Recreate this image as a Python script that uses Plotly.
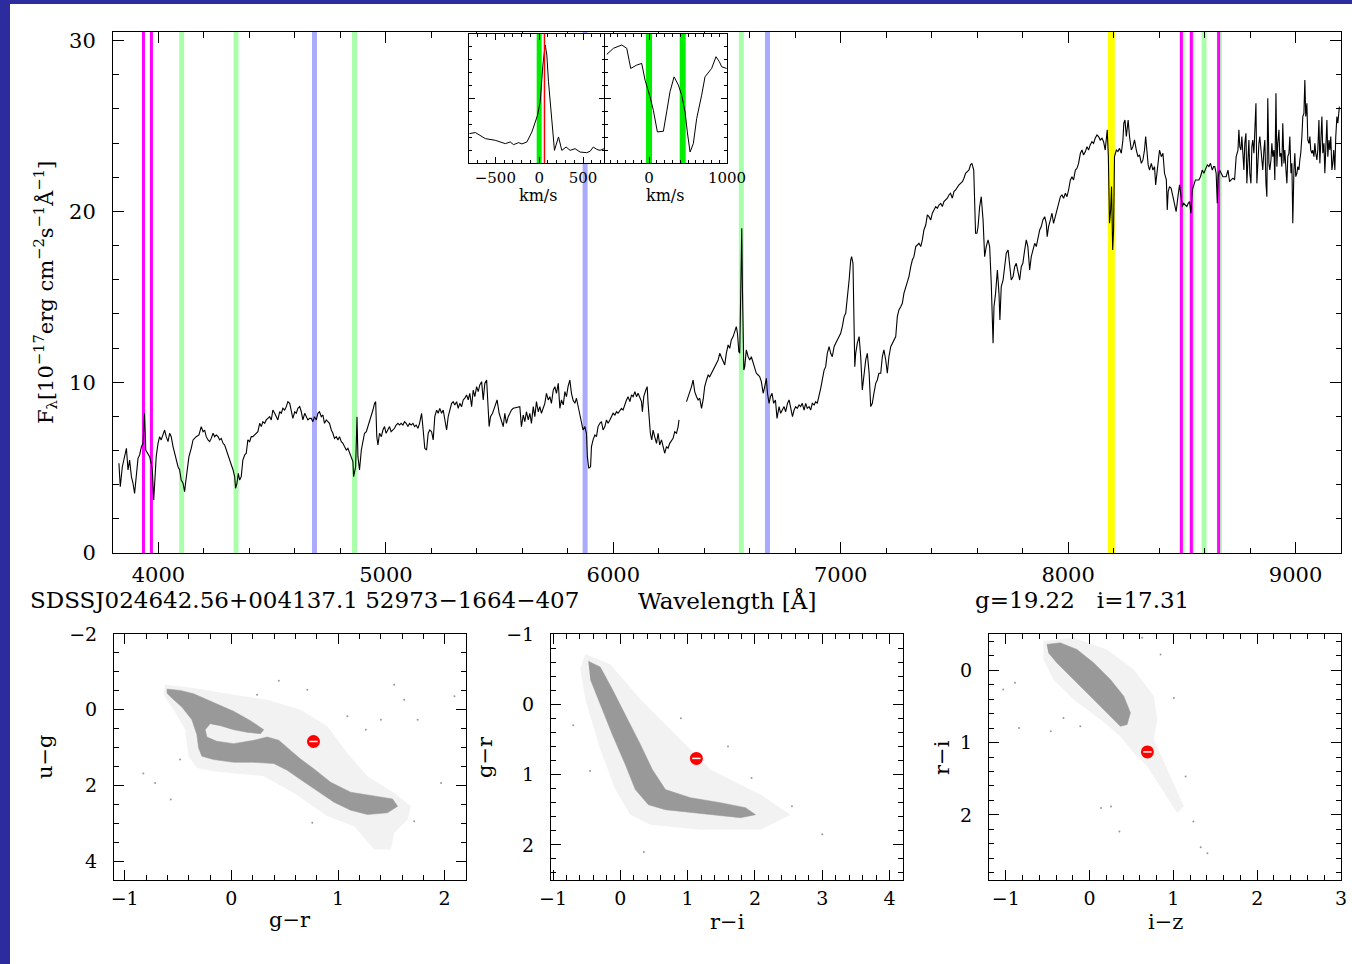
import plotly.graph_objects as go

W, H = 1352, 964
FONT = "DejaVu Serif"

# ---------------- spectrum: (wavelength [A], flux [1e-17 erg/cm2/s/A]) ----------------
spec_blue = [
    (3826, 5.25), (3832, 3.88), (3841, 5.05), (3851, 5.64), (3859, 6.13), (3866, 4.86), (3873, 5.44),
    (3881, 4.47), (3888, 4.08), (3895, 3.49), (3903, 4.86), (3910, 5.54), (3917, 5.74), (3925, 6.23),
    (3932, 6.42), (3939, 8.18), (3944, 6.03), (3954, 5.84), (3961, 5.64), (3968, 5.25), (3973, 4.86),
    (3979, 3.10), (3985, 4.86), (3990, 5.64), (3998, 6.42), (4005, 6.81), (4012, 6.62), (4020, 7.01),
    (4027, 7.20), (4034, 6.81), (4042, 6.52), (4049, 7.01), (4056, 6.81), (4064, 6.23), (4071, 5.84),
    (4078, 5.44), (4086, 5.05), (4093, 4.86), (4100, 4.27), (4108, 4.08), (4115, 3.59), (4119, 4.08),
    (4125, 4.86), (4134, 5.64), (4144, 6.13), (4152, 6.62), (4166, 6.81), (4178, 6.91), (4188, 7.40),
    (4196, 7.10), (4203, 7.20), (4210, 6.81), (4218, 6.62), (4225, 6.52), (4232, 6.71), (4240, 7.01),
    (4247, 6.81), (4254, 6.91), (4262, 6.81), (4269, 6.62), (4276, 6.71), (4284, 6.42), (4291, 6.32),
    (4298, 6.03), (4306, 5.74), (4313, 5.54), (4320, 5.25), (4328, 4.86), (4335, 4.47), (4339, 3.79),
    (4345, 4.08), (4351, 4.66), (4357, 4.27), (4364, 4.47), (4371, 5.44), (4379, 5.74), (4386, 5.84),
    (4393, 6.62), (4401, 6.52), (4408, 6.81), (4415, 6.81), (4423, 6.91), (4430, 7.01), (4437, 7.10),
    (4445, 7.59), (4452, 7.40), (4459, 7.69), (4467, 7.59), (4474, 7.79), (4481, 7.88), (4489, 7.98),
    (4496, 7.79), (4503, 8.37), (4511, 8.18), (4518, 7.98), (4525, 7.79), (4533, 8.27), (4540, 8.18),
    (4547, 8.47), (4555, 8.37), (4562, 8.57), (4569, 8.86), (4577, 8.76), (4584, 8.37), (4591, 7.88),
    (4599, 8.27), (4606, 8.18), (4613, 8.47), (4621, 8.57), (4628, 8.27), (4635, 7.79), (4643, 8.18),
    (4650, 7.98), (4657, 7.79), (4665, 7.88), (4672, 7.88), (4679, 7.69), (4686, 7.98), (4694, 7.79),
    (4701, 8.18), (4708, 8.27), (4716, 7.98), (4723, 8.08), (4730, 7.59), (4738, 7.79), (4745, 7.69),
    (4752, 7.59), (4760, 7.20), (4767, 7.01), (4774, 6.71), (4782, 6.81), (4789, 6.62), (4796, 6.81),
    (4804, 6.52), (4811, 6.42), (4818, 6.23), (4826, 6.03), (4833, 6.13), (4840, 5.84), (4848, 5.64),
    (4855, 5.35), (4858, 4.47), (4867, 5.05), (4873, 7.98), (4877, 5.64), (4884, 4.86), (4892, 6.03),
    (4899, 6.52), (4906, 7.01), (4914, 7.10), (4921, 7.40), (4928, 7.59), (4936, 7.98), (4943, 8.37),
    (4950, 8.76), (4955, 8.86), (4960, 6.81), (4965, 6.32), (4972, 7.01), (4980, 6.81), (4987, 7.20),
    (4994, 7.40), (5001, 7.01), (5009, 7.20), (5016, 7.40), (5023, 7.10), (5031, 7.20), (5038, 7.30),
    (5045, 7.49), (5053, 7.59), (5060, 7.49), (5067, 7.59), (5075, 7.49), (5082, 7.69), (5089, 7.59),
    (5097, 7.40), (5104, 7.59), (5111, 7.49), (5119, 7.59), (5126, 7.40), (5133, 7.49), (5141, 7.30),
    (5148, 7.59),
]
spec_green = [
    (5157, 8.18), (5164, 7.20), (5171, 6.13), (5179, 6.03), (5186, 7.01), (5193, 7.20), (5201, 7.10),
    (5208, 6.62), (5215, 7.98), (5223, 8.37), (5230, 8.18), (5237, 8.47), (5245, 8.18), (5252, 8.37),
    (5259, 7.79), (5267, 7.20), (5274, 7.98), (5281, 8.37), (5289, 8.76), (5296, 8.86), (5303, 8.67),
    (5311, 8.86), (5318, 8.47), (5325, 8.76), (5333, 8.57), (5340, 8.96), (5347, 9.06), (5355, 9.25),
    (5362, 8.96), (5369, 9.35), (5377, 8.57), (5384, 9.54), (5391, 9.15), (5399, 9.74), (5406, 9.45),
    (5413, 9.84), (5421, 10.03), (5428, 8.96), (5435, 9.93), (5443, 10.13), (5450, 8.57), (5454, 7.40),
    (5460, 7.98), (5469, 8.18), (5479, 8.57), (5489, 8.96), (5498, 8.18), (5508, 7.79), (5516, 7.40),
    (5523, 8.18), (5530, 7.59), (5538, 7.98), (5545, 8.18), (5552, 8.37), (5560, 8.47), (5589, 8.57),
    (5596, 7.40), (5604, 8.08), (5611, 7.69), (5618, 8.27), (5626, 7.79), (5633, 8.18), (5640, 7.59),
    (5648, 8.57), (5655, 7.98), (5662, 8.86), (5670, 8.27), (5677, 8.57), (5684, 8.18), (5692, 8.47),
    (5699, 8.76), (5706, 9.35), (5714, 8.96), (5721, 9.15), (5728, 8.76), (5736, 9.54), (5743, 9.74),
    (5750, 9.35), (5758, 9.93), (5765, 8.47), (5772, 8.96), (5780, 8.67), (5787, 9.45), (5794, 9.15),
    (5801, 9.74), (5809, 10.13), (5816, 9.35), (5823, 8.96), (5831, 8.76), (5838, 9.06), (5845, 8.57),
    (5853, 7.98), (5860, 7.59), (5867, 7.20), (5875, 7.40), (5882, 7.01), (5886, 5.64), (5892, 4.96),
    (5900, 5.05), (5904, 6.23), (5911, 6.62), (5919, 6.91), (5926, 6.81), (5933, 7.40), (5941, 7.59),
    (5948, 7.69), (5955, 7.20), (5963, 7.40), (5970, 7.79), (5977, 7.59), (5985, 7.79), (5992, 7.98),
    (5999, 8.18), (6007, 8.08), (6014, 8.27), (6021, 8.18), (6029, 8.37), (6036, 8.47), (6043, 8.37),
    (6051, 8.76), (6058, 8.96), (6065, 9.15), (6073, 8.86), (6080, 9.25), (6087, 9.15), (6095, 9.45),
    (6102, 9.15), (6109, 9.35), (6117, 9.06), (6124, 8.86), (6128, 8.27), (6134, 9.15), (6143, 9.54),
    (6149, 9.74), (6153, 8.76), (6158, 7.79), (6163, 7.01), (6169, 6.62), (6175, 7.20), (6182, 6.81),
    (6190, 6.42), (6197, 7.01), (6204, 6.32), (6212, 6.62), (6219, 6.13), (6226, 5.84), (6234, 6.23),
    (6241, 6.13), (6248, 6.42), (6256, 6.62), (6263, 6.71), (6270, 7.10), (6278, 7.01), (6285, 7.40),
    (6289, 7.79),
]
spec_red = [
    (6322, 8.86), (6329, 9.15), (6336, 9.35), (6344, 9.74), (6351, 10.13), (6358, 9.45), (6366, 9.15),
    (6373, 8.96), (6380, 9.06), (6388, 8.47), (6395, 8.96), (6402, 9.74), (6410, 10.13), (6417, 10.42),
    (6424, 10.32), (6432, 10.52), (6439, 10.71), (6446, 10.91), (6454, 11.10), (6461, 11.30),
    (6468, 11.69), (6475, 11.49), (6483, 11.20), (6490, 11.01), (6497, 11.69), (6505, 12.18),
    (6512, 11.98), (6519, 12.47), (6527, 12.67), (6534, 12.96), (6541, 13.25), (6546, 12.86),
    (6552, 11.79), (6556, 11.69), (6560, 16.37), (6565, 19.01), (6568, 15.40), (6571, 11.69),
    (6574, 10.71), (6578, 10.91), (6585, 11.89), (6593, 11.49), (6600, 11.30), (6607, 11.49),
    (6615, 11.10), (6622, 10.71), (6629, 10.52), (6637, 10.42), (6644, 10.32), (6651, 10.03),
    (6659, 9.35), (6666, 9.74), (6673, 10.23), (6678, 9.35), (6685, 8.76), (6691, 9.15), (6698, 9.35),
    (6705, 8.76), (6713, 8.96), (6720, 7.88), (6729, 8.57), (6736, 8.18), (6744, 8.37), (6751, 8.57),
    (6758, 8.27), (6766, 8.76), (6773, 8.96), (6780, 8.57), (6788, 7.98), (6795, 8.37), (6802, 8.57),
    (6809, 8.47), (6817, 8.67), (6824, 8.57), (6831, 8.76), (6839, 8.37), (6846, 8.76), (6853, 8.47),
    (6861, 8.57), (6868, 8.37), (6875, 8.76), (6883, 8.67), (6890, 8.86), (6897, 8.76), (6905, 9.15),
    (6912, 9.64), (6919, 10.13), (6927, 10.71), (6934, 10.91), (6941, 11.69), (6949, 12.08),
    (6956, 11.69), (6963, 11.49), (6971, 12.08), (6978, 12.28), (6985, 12.47), (6993, 12.67),
    (7000, 12.86), (7007, 13.25), (7015, 13.84), (7022, 14.03), (7029, 14.81), (7037, 15.98),
    (7044, 17.15), (7048, 17.35), (7054, 16.96), (7059, 13.25), (7062, 10.91), (7066, 11.69),
    (7073, 12.28), (7081, 12.67), (7088, 11.49), (7095, 9.54), (7103, 10.52), (7110, 11.30),
    (7117, 11.69), (7125, 10.52), (7132, 8.57), (7139, 8.76), (7146, 9.35), (7154, 9.93), (7161, 10.13),
    (7168, 10.52), (7176, 10.52), (7183, 11.49), (7190, 11.89), (7198, 11.30), (7205, 10.52),
    (7212, 11.49), (7220, 12.08), (7227, 12.28), (7234, 12.47), (7242, 12.67), (7249, 13.84),
    (7256, 14.23), (7264, 14.42), (7271, 14.62), (7278, 15.20), (7286, 15.59), (7293, 15.98),
    (7300, 16.18), (7308, 16.76), (7315, 17.15), (7322, 17.35), (7330, 17.94), (7337, 18.03),
    (7344, 18.13), (7352, 17.94), (7359, 18.33), (7366, 18.91), (7374, 19.20), (7381, 19.79),
    (7388, 19.69), (7396, 19.50), (7403, 19.89), (7410, 20.08), (7418, 20.28), (7425, 20.18),
    (7432, 20.37), (7440, 20.47), (7447, 20.28), (7454, 20.57), (7461, 20.67), (7469, 20.77),
    (7476, 20.96), (7483, 21.06), (7491, 20.77), (7498, 21.16), (7505, 21.25), (7513, 21.45),
    (7520, 21.55), (7527, 21.64), (7535, 21.74), (7542, 21.94), (7549, 22.23), (7557, 22.33),
    (7564, 22.42), (7571, 22.72), (7577, 22.81), (7585, 22.42), (7589, 20.28), (7593, 18.72),
    (7599, 18.72), (7604, 19.11), (7611, 20.28), (7618, 20.86), (7626, 19.50), (7633, 17.35),
    (7640, 17.94), (7648, 18.33), (7655, 17.94), (7662, 15.79), (7670, 12.28), (7674, 14.42),
    (7681, 15.20), (7689, 16.57), (7696, 15.20), (7700, 13.64), (7706, 15.59), (7714, 15.98),
    (7721, 16.76), (7728, 17.55), (7736, 17.74), (7743, 16.76), (7750, 15.98), (7758, 16.18),
    (7765, 16.76), (7772, 16.96), (7780, 16.37), (7787, 15.98), (7794, 16.76), (7801, 16.96),
    (7809, 17.74), (7816, 18.33), (7823, 17.94), (7831, 16.57),
]
spec_ir = [
    (7838, 17.35), (7845, 17.74), (7853, 18.13), (7860, 17.94), (7867, 18.52), (7875, 18.91),
    (7882, 19.11), (7889, 19.50), (7897, 19.69), (7904, 19.30), (7908, 18.52), (7914, 19.11),
    (7922, 19.50), (7929, 19.89), (7936, 19.30), (7944, 19.69), (7951, 20.08), (7958, 20.47),
    (7966, 20.86), (7973, 20.96), (7980, 20.77), (7988, 21.06), (7995, 20.86), (8002, 21.25),
    (8010, 21.84), (8017, 22.03), (8024, 21.84), (8032, 22.42), (8039, 22.52), (8046, 22.81),
    (8054, 23.40), (8061, 23.59), (8068, 23.30), (8076, 23.50), (8083, 23.79), (8090, 23.59),
    (8097, 23.89), (8105, 24.08), (8112, 23.98), (8119, 24.28), (8127, 24.47), (8134, 24.38),
    (8141, 24.18), (8149, 24.28), (8156, 24.08), (8163, 23.59), (8168, 24.38), (8172, 24.77),
    (8177, 23.20), (8180, 21.45), (8182, 19.30), (8187, 20.08), (8191, 21.45), (8196, 17.74),
    (8200, 18.91), (8204, 23.20), (8212, 23.59), (8219, 23.50), (8226, 23.69), (8234, 23.40),
    (8241, 24.18), (8245, 25.16), (8250, 25.35), (8256, 24.38), (8260, 24.96), (8264, 25.35),
    (8270, 24.38), (8278, 23.59), (8285, 23.79), (8292, 24.18), (8300, 23.59), (8307, 23.20),
    (8314, 23.30), (8322, 22.81), (8329, 23.01), (8336, 23.59), (8341, 24.38), (8347, 23.40),
    (8352, 22.72), (8358, 22.42), (8366, 22.81), (8373, 22.42), (8380, 22.62), (8385, 21.55),
    (8391, 22.42), (8396, 23.01), (8402, 23.59), (8410, 23.20), (8417, 23.40), (8424, 22.23),
    (8432, 21.84), (8436, 20.08), (8440, 21.16), (8446, 21.45), (8453, 21.35), (8461, 20.86),
    (8468, 20.47), (8475, 19.98), (8483, 20.86), (8490, 21.55), (8497, 20.86), (8502, 20.28),
    (8508, 20.47), (8515, 20.37), (8522, 20.28), (8528, 20.47), (8534, 20.57), (8540, 19.89),
    (8546, 21.25), (8553, 21.55), (8560, 21.84), (8568, 21.84), (8575, 21.84), (8582, 22.03),
    (8590, 22.42), (8597, 22.23), (8604, 22.52), (8612, 22.72), (8619, 22.62), (8626, 22.81),
    (8634, 22.42), (8640, 22.62), (8645, 22.62), (8651, 22.23), (8656, 20.47), (8660, 22.03),
    (8666, 22.42), (8673, 22.23), (8681, 22.03), (8688, 22.03), (8695, 22.03), (8703, 22.42),
    (8710, 21.74), (8717, 21.84), (8725, 21.94), (8732, 21.84), (8739, 23.20), (8747, 23.59),
    (8751, 24.77), (8755, 23.79), (8760, 23.59), (8764, 24.38), (8768, 23.20), (8773, 22.42),
    (8777, 23.98), (8782, 24.57), (8786, 21.64), (8790, 22.81), (8795, 24.18), (8799, 22.23),
    (8804, 21.64), (8808, 23.79), (8812, 24.18), (8817, 23.40), (8821, 24.96), (8826, 26.33),
    (8830, 21.64), (8834, 23.20), (8839, 23.98), (8843, 24.38), (8848, 23.59), (8852, 23.40),
    (8856, 22.42), (8861, 23.59), (8865, 24.18), (8870, 21.64), (8874, 20.86), (8878, 26.62),
    (8883, 22.81), (8887, 22.42), (8892, 23.01), (8896, 23.98), (8900, 23.20), (8905, 23.59),
    (8909, 21.84), (8914, 26.91), (8918, 22.62), (8922, 23.98), (8927, 24.77), (8931, 23.20),
    (8936, 23.40), (8940, 22.62), (8944, 25.16), (8949, 22.81), (8953, 23.59), (8958, 22.42),
    (8962, 21.64), (8966, 23.20), (8971, 23.40), (8975, 24.38), (8980, 22.23), (8984, 22.81),
    (8988, 19.30), (8993, 22.42), (8997, 23.40), (9001, 22.03), (9006, 22.23), (9010, 22.62),
    (9015, 22.42), (9019, 23.01), (9023, 23.40), (9028, 24.38), (9032, 25.55), (9037, 25.74),
    (9041, 27.69), (9045, 25.55), (9050, 26.33), (9054, 24.18), (9059, 23.98), (9063, 24.38),
    (9067, 23.59), (9072, 23.40), (9076, 23.59), (9081, 23.20), (9085, 23.98), (9089, 23.40),
    (9094, 23.01), (9098, 23.59), (9103, 25.35), (9107, 22.81), (9111, 24.38), (9116, 25.55),
    (9120, 23.40), (9125, 23.98), (9129, 22.23), (9133, 23.79), (9138, 25.35), (9142, 23.20),
    (9147, 24.18), (9151, 23.59), (9155, 24.38), (9160, 22.42), (9164, 22.81), (9168, 23.59),
    (9173, 22.42), (9177, 24.38), (9182, 25.55), (9186, 25.16), (9193, 26.13),
]

# ---------------- marked lines [A] ----------------
ca_hk = [3934, 3969]
balmer = [4102, 4341, 4862, 6563]
helium = [4686, 5876, 6678]
na_ir = [8190]
paschen = [8502, 8545, 8598, 8665]
ca_triplet = [8498, 8542, 8662]

# ---------------- velocity insets ----------------
inset_flux_range = [10, 20]
ha_vel = [-795, -727, -614, -500, -386, -330, -292, -235, -197, -140, -83, -19, 11, 42, 68, 87, 106,
          144, 174, 220, 258, 307, 352, 409, 466, 542, 580, 617, 655, 693, 739]
ha_flux = [12.28, 12.36, 11.89, 11.76, 11.50, 11.63, 11.42, 11.58, 11.48, 11.63, 12.41, 13.70, 14.74,
           17.59, 19.15, 18.37, 16.30, 13.45, 10.98, 12.02, 10.98, 11.24, 10.98, 11.11, 10.85, 10.80,
           10.91, 11.24, 11.06, 10.98, 11.11]
ha_marks = [0]
ha_rv = [60]
ab_vel = [-542, -457, -350, -286, -235, -158, -94, -51, 13, 55, 107, 141, 184, 226, 269, 321, 376,
          419, 462, 491, 526, 568, 611, 675, 718, 803, 859, 902, 932, 996]
ab_flux = [18.42, 18.89, 19.15, 18.89, 17.33, 17.59, 17.72, 16.42, 15.13, 14.09, 12.41, 12.41, 12.46,
           13.96, 15.52, 16.68, 16.04, 15.26, 13.96, 12.41, 10.85, 11.50, 13.45, 15.26, 16.68, 17.33,
           18.24, 17.85, 17.46, 17.33]
ab_marks = [0, 432]

# ---------------- colour-colour diagrams ----------------
# dense stellar locus outline and sparse envelope outline, plus isolated field objects
ug_gr_core_x = [-0.605, -0.480, -0.354, -0.166, 0.022, 0.179, 0.304, 0.273, 0.147, 0.022, -0.103, -0.198,
                -0.245, -0.229, -0.135, 0.022, 0.210, 0.336, 0.445, 0.539, 0.649, 0.775, 0.931, 1.119,
                1.339, 1.511, 1.559, 1.464, 1.276, 1.119, 0.963, 0.806, 0.649, 0.524, 0.398, 0.210,
                0.022, -0.166, -0.276, -0.307, -0.323, -0.370, -0.464, -0.558, -0.605]
ug_gr_core_y = [-0.545, -0.510, -0.422, -0.193, 0.044, 0.290, 0.528, 0.633, 0.598, 0.528, 0.422, 0.369,
                0.528, 0.721, 0.836, 0.897, 0.809, 0.721, 0.809, 1.038, 1.302, 1.565, 1.917, 2.181,
                2.269, 2.357, 2.551, 2.726, 2.770, 2.656, 2.445, 2.155, 1.847, 1.601, 1.425, 1.390,
                1.390, 1.319, 1.231, 1.011, 0.660, 0.264, -0.070, -0.308, -0.440]
ug_gr_halo_x = [-0.621, -0.354, 0.022, 0.336, 0.649, 0.900, 1.088, 1.276, 1.527, 1.684, 1.653, 1.527,
                1.496, 1.339, 1.151, 0.900, 0.586, 0.304, -0.166, -0.323, -0.401, -0.433, -0.542, -0.637]
ug_gr_halo_y = [-0.660, -0.572, -0.396, -0.264, 0.0, 0.440, 1.143, 1.759, 2.199, 2.551, 2.902, 3.254,
                3.694, 3.694, 3.078, 2.814, 2.199, 1.759, 1.627, 1.539, 1.231, 0.528, 0.0, -0.396]
ug_gr_field_x = [0.445, 1.527, 2.092, 1.621, 1.088, 1.402, 1.261, -0.825, -0.715, -0.568, -0.480, 1.966,
                 1.715, 0.759, 0.712, 0.241, 1.747]
ug_gr_field_y = [-0.765, -0.660, -0.352, -0.264, 0.176, 0.264, 0.528, 1.689, 1.935, 2.375, 1.319, 1.935,
                 2.946, 2.990, -0.528, -0.396, 0.264]

gr_ri_core_x = [-0.476, -0.298, -0.119, 0.074, 0.298, 0.476, 0.670, 1.042, 1.488, 1.860, 2.009, 1.786,
                1.190, 0.670, 0.417, 0.223, 0.074, -0.119, -0.298, -0.446]
gr_ri_core_y = [-0.614, -0.529, -0.214, 0.143, 0.571, 0.929, 1.214, 1.329, 1.400, 1.471, 1.571, 1.614,
                1.557, 1.500, 1.429, 1.214, 0.857, 0.429, 0.0, -0.357]
gr_ri_halo_x = [-0.521, -0.149, 0.298, 0.893, 1.339, 2.083, 2.530, 2.083, 1.190, 0.446, 0.149, -0.074,
                -0.298, -0.521, -0.595]
gr_ri_halo_y = [-0.714, -0.571, -0.071, 0.500, 0.929, 1.286, 1.571, 1.786, 1.786, 1.714, 1.571, 1.214,
                0.643, -0.071, -0.500]
gr_ri_field_x = [-0.70, 0.90, 1.95, 2.55, 3.00, 1.60, -0.45, 0.35]
gr_ri_field_y = [0.30, 0.20, 1.05, 1.45, 1.85, 0.60, 0.95, 2.10]

ri_iz_core_x = [-0.511, -0.351, -0.151, 0.048, 0.248, 0.408, 0.487, 0.448, 0.368, 0.248, 0.088, -0.071,
                -0.231, -0.391, -0.491]
ri_iz_core_y = [-0.356, -0.379, -0.287, -0.102, 0.129, 0.360, 0.590, 0.752, 0.775, 0.637, 0.452, 0.267,
                0.083, -0.102, -0.241]
ri_iz_halo_x = [-0.551, -0.191, 0.208, 0.527, 0.767, 0.807, 0.767, 0.927, 1.126, 1.046, 0.847, 0.687,
                0.527, 0.368, 0.128, -0.191, -0.431, -0.551]
ri_iz_halo_y = [-0.402, -0.448, -0.287, -0.010, 0.360, 0.683, 0.960, 1.375, 1.883, 1.975, 1.606, 1.329,
                1.145, 0.914, 0.683, 0.406, 0.129, -0.148]
ri_iz_field_x = [-1.030, -0.890, -0.842, -0.463, -0.311, -0.111, 1.006, 0.847, 0.627, 0.136, 0.256,
                 0.356, 1.238, 1.326, 1.406, 1.146]
ri_iz_field_y = [0.267, 0.175, 0.798, 0.844, 0.660, 0.775, 0.383, -0.217, -0.448, 1.906, 1.883, 2.229,
                 2.091, 2.446, 2.530, 1.468]

# this object
obj_ug, obj_gr, obj_ri, obj_iz = 0.84, 0.77, 1.13, 0.69
obj_name = "SDSSJ024642.56+004137.1 52973\u22121664\u2212407"
obj_mags = "g=19.22\u00a0\u00a0\u00a0i=17.31"

# ---------------- layout helpers ----------------
def dom_x(left, right):
    return [left / W, right / W]


def dom_y(top, bottom):
    return [1 - bottom / H, 1 - top / H]


def unzip(*segments):
    xs, ys = [], []
    for k, seg in enumerate(segments):
        if k:
            xs.append(None)
            ys.append(None)
        xs += [p[0] for p in seg]
        ys += [p[1] for p in seg]
    return xs, ys


LOCUS = "#999999"
HALO = "rgba(153,153,153,0.13)"

fig = go.Figure()

# spectrum (gap near 6300 A)
sx, sy = unzip(spec_blue + spec_green, spec_red + spec_ir)
fig.add_trace(go.Scatter(x=sx, y=sy, mode="lines", line=dict(color="black", width=1.1),
                         xaxis="x", yaxis="y", connectgaps=False, hoverinfo="skip"))

# insets: marker bands first, then the profiles
for v in ha_marks:
    fig.add_trace(go.Scatter(x=[v, v], y=inset_flux_range, mode="lines",
                             line=dict(color="#00ee00", width=5), xaxis="x2", yaxis="y2"))
for v in ab_marks:
    fig.add_trace(go.Scatter(x=[v, v], y=inset_flux_range, mode="lines",
                             line=dict(color="#00ee00", width=6), xaxis="x3", yaxis="y3"))
fig.add_trace(go.Scatter(x=ha_vel, y=ha_flux, mode="lines", line=dict(color="black", width=1),
                         xaxis="x2", yaxis="y2"))
for v in ha_rv:
    fig.add_trace(go.Scatter(x=[v, v], y=inset_flux_range, mode="lines",
                             line=dict(color="#ff0000", width=1.5), xaxis="x2", yaxis="y2"))
fig.add_trace(go.Scatter(x=ab_vel, y=ab_flux, mode="lines", line=dict(color="black", width=1),
                         xaxis="x3", yaxis="y3"))

# colour-colour panels
panels = [
    ("x4", "y4", ug_gr_halo_x, ug_gr_halo_y, ug_gr_core_x, ug_gr_core_y, ug_gr_field_x, ug_gr_field_y,
     obj_gr, obj_ug),
    ("x5", "y5", gr_ri_halo_x, gr_ri_halo_y, gr_ri_core_x, gr_ri_core_y, gr_ri_field_x, gr_ri_field_y,
     obj_ri, obj_gr),
    ("x6", "y6", ri_iz_halo_x, ri_iz_halo_y, ri_iz_core_x, ri_iz_core_y, ri_iz_field_x, ri_iz_field_y,
     obj_iz, obj_ri),
]
for xa, ya, hx, hy, cx, cy, fx, fy, ox, oy in panels:
    fig.add_trace(go.Scatter(x=hx, y=hy, mode="lines", fill="toself", fillcolor=HALO,
                             line=dict(width=0), xaxis=xa, yaxis=ya))
    fig.add_trace(go.Scatter(x=cx, y=cy, mode="lines", fill="toself", fillcolor=LOCUS,
                             line=dict(width=0.5, color=LOCUS), xaxis=xa, yaxis=ya))
    fig.add_trace(go.Scatter(x=fx, y=fy, mode="markers", marker=dict(size=2, color=LOCUS),
                             xaxis=xa, yaxis=ya))
    fig.add_trace(go.Scatter(x=[ox], y=[oy], mode="markers",
                             marker=dict(size=13, color="#ff0000", line=dict(width=0)),
                             xaxis=xa, yaxis=ya))
    fig.add_trace(go.Scatter(x=[ox], y=[oy], mode="markers",
                             marker=dict(size=6, symbol="line-ew", line=dict(color="white", width=1.5)),
                             xaxis=xa, yaxis=ya))

# ---------------- shapes ----------------
shapes = [
    dict(type="rect", xref="paper", yref="paper", x0=0, x1=10 / W, y0=0, y1=1,
         fillcolor="#2c2c9e", line=dict(width=0), layer="below"),
    dict(type="rect", xref="paper", yref="paper", x0=0, x1=1, y0=1 - 4 / H, y1=1,
         fillcolor="#2c2c9e", line=dict(width=0), layer="below"),
]


def vline(x, color, width):
    return dict(type="line", xref="x", yref="y domain", x0=x, x1=x, y0=0, y1=1,
                line=dict(color=color, width=width), layer="below")


for w in balmer:
    shapes.append(vline(w, "#aaffaa", 5))
for w in paschen:
    shapes.append(vline(w, "#aaffaa", 5))
for w in helium:
    shapes.append(vline(w, "#aaaaff", 5))
for w in na_ir:
    shapes.append(vline(w, "#ffff00", 7))
for w in ca_hk + ca_triplet:
    shapes.append(vline(w, "#ff00ff", 3))

# ---------------- axes ----------------
tick_font = dict(family=FONT, size=21, color="black")
cc_font = dict(family=FONT, size=19, color="black")
small_font = dict(family=FONT, size=15, color="black")


def axis(domain, rng, dtick, minor, ticklen, font=tick_font, labels=True, anchor=None,
         standoff=4, **extra):
    d = dict(domain=domain, range=rng, dtick=dtick, ticks="inside", ticklen=ticklen, tickwidth=1,
             tickcolor="black", minor=dict(ticks="inside", dtick=minor, ticklen=ticklen / 2,
                                           tickwidth=1, tickcolor="black"),
             showline=True, linecolor="black", linewidth=1, mirror="allticks", showgrid=False,
             zeroline=False, tickfont=font, showticklabels=labels, ticklabelstandoff=standoff,
             fixedrange=True, automargin=False)
    if anchor:
        d["anchor"] = anchor
    d.update(extra)
    return d


layout = dict(
    width=W, height=H, margin=dict(l=0, r=0, t=0, b=0, pad=0, autoexpand=False),
    paper_bgcolor="white", plot_bgcolor="white",
    showlegend=False, shapes=shapes,
    xaxis=axis(dom_x(113, 1341), [3800, 9200], 1000, 200, 11, anchor="y", standoff=3),
    yaxis=axis(dom_y(32, 553), [0, 30.5], 10, 2, 11, anchor="x", standoff=12),
    xaxis2=axis(dom_x(469, 605), [-800, 750], 500, 100, 6, font=small_font, anchor="y2", standoff=1),
    yaxis2=axis(dom_y(34, 163), inset_flux_range, 5, 1, 6, labels=False, anchor="x2"),
    xaxis3=axis(dom_x(605, 727), [-565, 1000], 1000, 100, 6, font=small_font, anchor="y3", standoff=1),
    yaxis3=axis(dom_y(34, 163), inset_flux_range, 5, 1, 6, labels=False, anchor="x3"),
    xaxis4=axis(dom_x(114, 466), [-1.1, 2.2], 1, 0.2, 10, font=cc_font, anchor="y4", standoff=1),
    yaxis4=axis(dom_y(634, 880), [4.5, -2], 2, 0.5, 10, font=cc_font, anchor="x4", standoff=12),
    xaxis5=axis(dom_x(551, 903), [-1.03, 4.2], 1, 0.2, 10, font=cc_font, anchor="y5", standoff=1),
    yaxis5=axis(dom_y(634, 880), [2.5, -1], 1, 0.2, 10, font=cc_font, anchor="x5", standoff=12),
    xaxis6=axis(dom_x(989, 1341), [-1.2, 3], 1, 0.2, 10, font=cc_font, anchor="y6", standoff=1),
    yaxis6=axis(dom_y(634, 880), [2.9, -0.5], 1, 0.2, 10, font=cc_font, anchor="x6", standoff=12),
)


def note(text, x, y, anchor="center", angle=0, size=21):
    return dict(text=text, xref="paper", yref="paper", x=x / W, y=1 - y / H, xanchor=anchor,
                yanchor="middle", showarrow=False, textangle=angle,
                font=dict(family=FONT, size=size, color="black"))


layout["annotations"] = [
    note(obj_name, 28, 600, "left", size=23),
    note("Wavelength [\u00c5]", 727, 600, size=23),
    note(obj_mags, 973, 600, "left", size=23),
    note("F<sub>\u03bb</sub>[10<sup>\u221217</sup>erg cm<sup>\u22122</sup>s<sup>\u22121</sup>"
         "\u00c5<sup>\u22121</sup>]", 45, 293, angle=-90),
    note("km/s", 538, 196, size=16),
    note("km/s", 665, 196, size=16),
    note("g\u2212r", 290, 920),
    note("r\u2212i", 727, 922),
    note("i\u2212z", 1165, 922),
    note("u\u2212g", 45, 757, angle=-90),
    note("g\u2212r", 485, 757, angle=-90),
    note("r\u2212i", 942, 757, angle=-90),
]

fig.update_layout(**layout)
fig.write_html(
    "out.html",
    post_script="document.body.style.margin='0';document.body.style.padding='0';"
                "document.body.style.overflow='hidden';",
)
